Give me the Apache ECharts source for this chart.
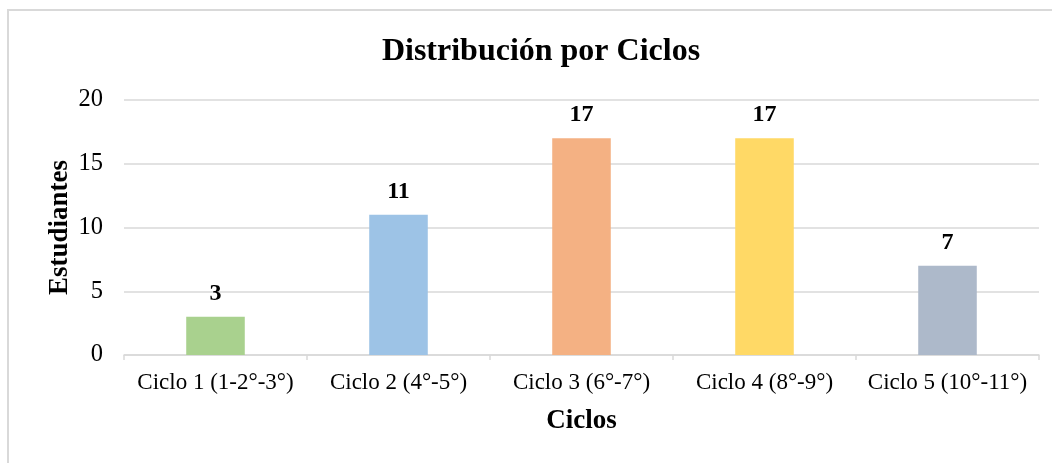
<!DOCTYPE html>
<html>
<head>
<meta charset="utf-8">
<script src="https://cdn.jsdelivr.net/npm/echarts@6/dist/echarts.min.js"></script>
<style>
html,body{margin:0;padding:0;background:#fff;}
#chartBar{width:1052px;height:463px;}
</style>
</head>
<body>
<div id="chartBar"></div>
<script>
var categories = ['Ciclo 1 (1-2°-3°)', 'Ciclo 2 (4°-5°)', 'Ciclo 3 (6°-7°)', 'Ciclo 4 (8°-9°)', 'Ciclo 5 (10°-11°)'];
var students = [3, 11, 17, 17, 7];
var barColors = ['#a9d18e', '#9dc3e6', '#f4b183', '#ffd966', '#adb9ca'];
var yTicks = [0, 5, 10, 15, 20];

drawBar();
function drawBar(){
	var myChart = echarts.init(document.getElementById('chartBar'));
	var font = '"Liberation Serif", "Times New Roman", serif';
	var option = {
		textStyle: { fontFamily: font },
		animation: false,
		graphic: [{
			type: 'rect',
			shape: { x: 8, y: 10, width: 1100, height: 500 },
			style: { fill: 'none', stroke: '#d9d9d9', lineWidth: 2 },
			silent: true
		}],
		title: {
			text: 'Distribución por Ciclos',
			left: 536,
			top: 31,
			textAlign: 'center',
			textStyle: { fontFamily: font, fontSize: 32, fontWeight: 'bold', color: '#000' }
		},
		grid: {
			top: 100,
			left: 124,
			right: 13,
			bottom: 108,
			containLabel: false
		},
		xAxis: {
			type: 'category',
			data: categories,
			name: 'Ciclos',
			nameLocation: 'middle',
			nameGap: 53,
			nameTextStyle: { fontFamily: font, fontSize: 27, fontWeight: 'bold', color: '#000' },
			axisLine: { lineStyle: { color: '#d9d9d9', width: 1.5 } },
			axisTick: { show: true, length: 5, lineStyle: { color: '#d9d9d9', width: 1.5 } },
			axisLabel: { fontFamily: font, fontSize: 23, color: '#000', margin: 16, interval: 0 }
		},
		yAxis: {
			type: 'value',
			min: yTicks[0],
			max: yTicks[yTicks.length - 1],
			interval: 5,
			name: 'Estudiantes',
			nameLocation: 'middle',
			nameGap: 50,
			nameMoveOverlap: false,
			nameTextStyle: { fontFamily: font, fontSize: 27, fontWeight: 'bold', color: '#000' },
			axisLine: { show: false },
			axisTick: { show: false },
			axisLabel: { fontFamily: font, fontSize: 24.5, color: '#000', margin: 21 },
			splitLine: { lineStyle: { color: '#d9d9d9', width: 1.5 } }
		},
		series: [{
			type: 'bar',
			barWidth: '32%',
			data: students.map(function(v, i){
				return { value: v, itemStyle: { color: barColors[i] } };
			}),
			label: {
				show: true,
				position: 'top',
				distance: 11,
				fontFamily: font,
				fontSize: 24,
				fontWeight: 'bold',
				color: '#000'
			}
		}]
	};
	myChart.setOption(option);
}
</script>
</body>
</html>
